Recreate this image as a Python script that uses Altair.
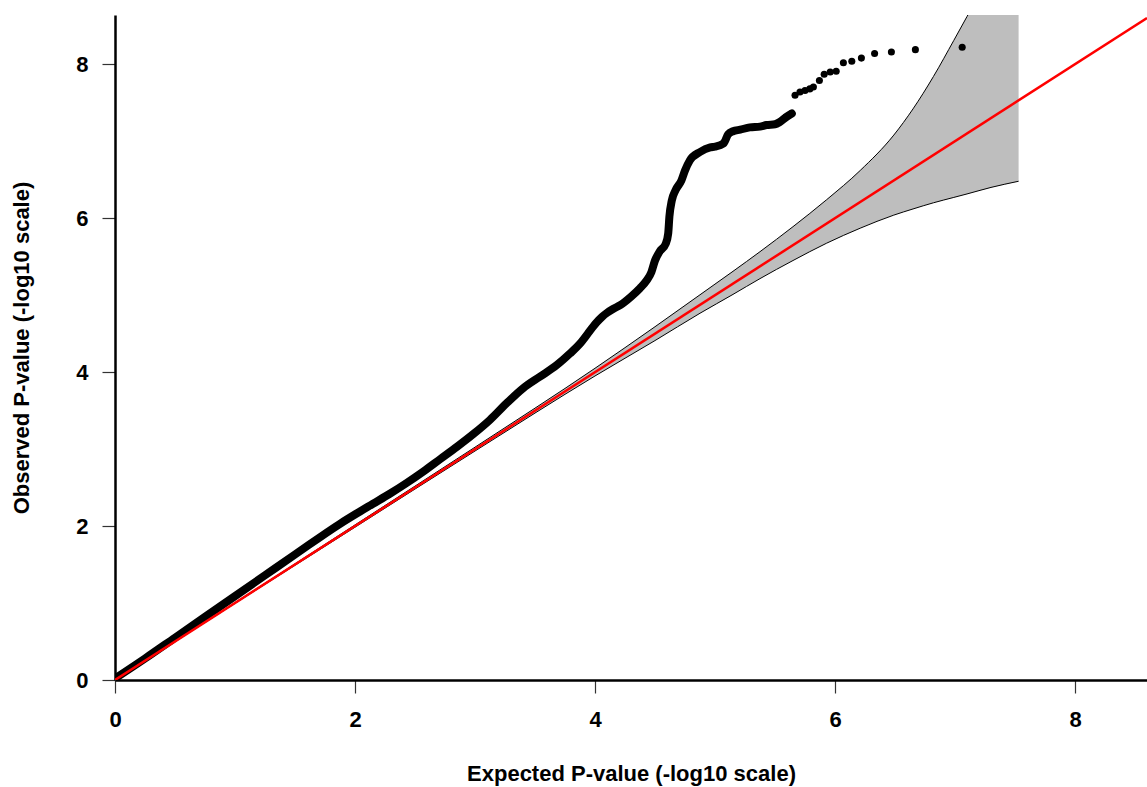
import altair as alt
import pandas as pd

# Observed QQ curve (dense part)
obs_x = [0.00, 0.25, 0.50, 0.75, 1.00, 1.25, 1.50, 1.875, 2.01, 2.15, 2.29, 2.43, 2.57, 2.71,
         2.85, 2.99, 3.125, 3.26, 3.40, 3.54, 3.68, 3.79, 3.875, 3.94, 4.01, 4.06, 4.10, 4.15,
         4.21, 4.30, 4.375, 4.43, 4.47, 4.50, 4.54, 4.59, 4.61, 4.62, 4.64, 4.67, 4.72, 4.75,
         4.79, 4.875, 4.96, 5.00, 5.07, 5.11, 5.15, 5.21, 5.29, 5.375, 5.43, 5.50, 5.54, 5.59, 5.64]
obs_y = [0.02, 0.28, 0.55, 0.82, 1.09, 1.36, 1.63, 2.03, 2.16, 2.29, 2.42, 2.56, 2.71, 2.87,
         3.03, 3.20, 3.38, 3.59, 3.79, 3.94, 4.09, 4.24, 4.37, 4.50, 4.64, 4.72, 4.77, 4.82,
         4.87, 4.98, 5.09, 5.19, 5.30, 5.45, 5.57, 5.67, 5.80, 6.02, 6.23, 6.36, 6.49, 6.62,
         6.75, 6.86, 6.92, 6.93, 6.97, 7.09, 7.13, 7.15, 7.18, 7.19, 7.21, 7.22, 7.25, 7.31, 7.36]

# Sparse top points
top_x = [5.59, 5.64, 5.667, 5.708, 5.75, 5.79, 5.82, 5.87, 5.91, 5.96, 6.01, 6.07, 6.14, 6.22,
         6.33, 6.47, 6.67, 7.06]
top_y = [7.31, 7.36, 7.597, 7.64, 7.66, 7.68, 7.705, 7.79, 7.87, 7.90, 7.91, 8.02, 8.04, 8.08,
         8.14, 8.16, 8.19, 8.22]

# Confidence band
band_x = [0, 1, 2, 3, 4, 4.5, 4.875, 5.15, 5.375, 5.65, 5.93, 6.21, 6.49, 6.65, 6.82, 6.99, 7.10, 7.30, 7.53]
band_lo = [0, 0.995, 1.985, 2.975, 3.95, 4.41, 4.765, 5.01, 5.215, 5.45, 5.675, 5.87, 6.04, 6.12, 6.20, 6.27, 6.315, 6.40, 6.48]
band_hi = [0, 1.005, 2.015, 3.025, 4.05, 4.59, 5.005, 5.31, 5.565, 5.89, 6.24, 6.62, 7.08, 7.42, 7.84, 8.31, 8.62, 9.2, 9.9]

# Reference line y = x
ref_x = [0, 8.6]
ref_y = [0, 8.6]

x_ticks = [0, 2, 4, 6, 8]
y_ticks = [0, 2, 4, 6, 8]

obs = pd.DataFrame({"x": obs_x, "y": obs_y})
top = pd.DataFrame({"x": top_x, "y": top_y})
band = pd.DataFrame({"x": band_x, "lo": band_lo, "hi": band_hi})
ref = pd.DataFrame({"x": ref_x, "y": ref_y})

FONT = "Liberation Sans"

xs = alt.Scale(domain=[0, 8.6], nice=False, zero=False)
ys = alt.Scale(domain=[0, 8.64], nice=False, zero=False)

xaxis = alt.Axis(values=x_ticks, title="Expected P-value (-log10 scale)", grid=False,
                 domainColor="black", domainWidth=2.5, tickColor="#333", tickWidth=1.2,
                 tickSize=13, labelPadding=16, titlePadding=33, format="d",
                 labelFlush=False, labelOverlap=False)
yaxis = alt.Axis(values=y_ticks, title="Observed P-value (-log10 scale)", grid=False,
                 domainColor="black", domainWidth=2.5, tickColor="#333", tickWidth=1.2,
                 tickSize=13, labelPadding=14, titlePadding=42, format="d",
                 labelFlush=False, labelOverlap=False)

area = alt.Chart(band).mark_area(color="#BEBEBE", clip=True, opacity=1,
                                 interpolate="monotone").encode(
    x=alt.X("x:Q", scale=xs, axis=xaxis),
    y=alt.Y("lo:Q", scale=ys, axis=yaxis),
    y2="hi:Q",
)
upper = alt.Chart(band).mark_line(color="black", strokeWidth=1, clip=True,
                                  interpolate="monotone").encode(
    x=alt.X("x:Q", scale=xs), y=alt.Y("hi:Q", scale=ys)
)
lower = alt.Chart(band).mark_line(color="black", strokeWidth=1, clip=True,
                                  interpolate="monotone").encode(
    x=alt.X("x:Q", scale=xs), y=alt.Y("lo:Q", scale=ys)
)
curve = alt.Chart(obs).mark_line(color="black", strokeWidth=8, strokeCap="round",
                                 strokeJoin="round", clip=True,
                                 interpolate="monotone").encode(
    x=alt.X("x:Q", scale=xs), y=alt.Y("y:Q", scale=ys)
)
dots = alt.Chart(top).mark_circle(color="black", size=50, opacity=1, clip=True).encode(
    x=alt.X("x:Q", scale=xs), y=alt.Y("y:Q", scale=ys)
)
redline = alt.Chart(ref).mark_line(color="#FF0000", strokeWidth=2.5, clip=True).encode(
    x=alt.X("x:Q", scale=xs), y=alt.Y("y:Q", scale=ys)
)

chart = alt.layer(area, upper, lower, curve, dots, redline).properties(
    width=1032, height=665,
    padding={"left": 115, "top": 15, "right": 0, "bottom": 107},
    autosize="none",
).configure_view(stroke=None).configure_axis(
    labelFont=FONT, labelFontSize=22, labelFontWeight="bold", labelColor="black",
    titleFont=FONT, titleFontSize=22, titleFontWeight="bold", titleColor="black",
)

chart.save("out.html", embed_options={"renderer": "svg", "actions": False})
